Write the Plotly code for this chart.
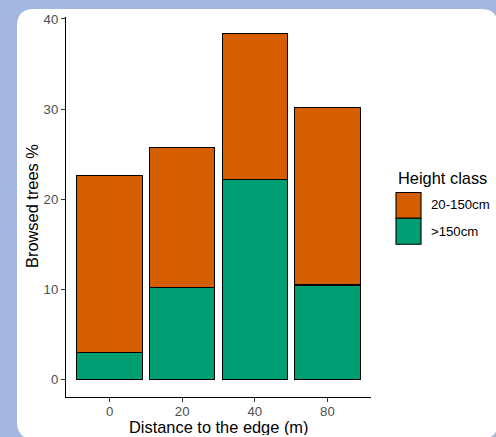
import plotly.graph_objects as go

# Data
categories = ["0", "20", "40", "80"]
tall = [3.0, 10.2, 22.2, 10.5]          # >150cm
small = [19.6, 15.5, 16.2, 19.7]        # 20-150cm
series_names = ["20-150cm", ">150cm"]
colors = {"20-150cm": "#D55E00", ">150cm": "#009E73"}

W, H = 496, 437
L, R, T, B = 66, 125, 17, 40
PW, PH = W - L - R, H - T - B

TITLE_SIZE = 16.4
TEXT_SIZE = 13.2


def xp(px):
    return (px - L) / PW


def yp(py):
    return (H - B - py) / PH


fig = go.Figure()
fig.add_trace(go.Bar(x=categories, y=tall, name=">150cm",
                     marker=dict(color=colors[">150cm"], line=dict(color="black", width=1.1)),
                     showlegend=False))
fig.add_trace(go.Bar(x=categories, y=small, name="20-150cm",
                     marker=dict(color=colors["20-150cm"], line=dict(color="black", width=1.1)),
                     showlegend=False))

# rounded white panel
x0, x1, y0, y1, r = 17, 498, 9, 439, 17
rx, ry = r / PW, r / PH
path = (f"M {xp(x0)+rx},{yp(y0)} L {xp(x1)-rx},{yp(y0)} Q {xp(x1)},{yp(y0)} {xp(x1)},{yp(y0)-ry} "
        f"L {xp(x1)},{yp(y1)+ry} Q {xp(x1)},{yp(y1)} {xp(x1)-rx},{yp(y1)} "
        f"L {xp(x0)+rx},{yp(y1)} Q {xp(x0)},{yp(y1)} {xp(x0)},{yp(y1)+ry} "
        f"L {xp(x0)},{yp(y0)-ry} Q {xp(x0)},{yp(y0)} {xp(x0)+rx},{yp(y0)} Z")
shapes = [dict(type="path", path=path, xref="paper", yref="paper",
               fillcolor="white", line=dict(width=0), layer="below")]

# legend (manual)
key_x0, key_x1 = 396, 421
key_rows = [(192.5, 218.3), (218.3, 244.3)]
label_y = [204.5, 231.5]
annotations = []
for name, (ky0, ky1), ly in zip(series_names, key_rows, label_y):
    shapes.append(dict(type="rect", xref="paper", yref="paper",
                       x0=xp(key_x0), x1=xp(key_x1), y0=yp(ky1), y1=yp(ky0),
                       fillcolor=colors[name], line=dict(color="black", width=1.1)))
    annotations.append(dict(text=name, xref="paper", yref="paper", x=xp(429), y=yp(ly),
                            xanchor="left", yanchor="middle", showarrow=False,
                            font=dict(size=TEXT_SIZE, color="black")))
annotations.append(dict(text="Height class", xref="paper", yref="paper", x=xp(396), y=yp(177.5),
                        xanchor="left", yanchor="middle", showarrow=False,
                        font=dict(size=TITLE_SIZE, color="black")))
annotations.append(dict(text="Distance to the edge (m)", xref="paper", yref="paper",
                        x=0.5, y=yp(427), xanchor="center", yanchor="middle", showarrow=False,
                        height=16, font=dict(size=TITLE_SIZE, color="black")))
annotations.append(dict(text="Browsed trees %", xref="paper", yref="paper",
                        x=xp(32), y=yp(206), xanchor="center", yanchor="middle", showarrow=False,
                        textangle=-90, font=dict(size=TITLE_SIZE, color="black")))

fig.update_layout(
    width=W, height=H,
    margin=dict(l=L, r=R, t=T, b=B, pad=0),
    paper_bgcolor="#A2B8E0", plot_bgcolor="white",
    barmode="stack", bargap=0.1,
    font=dict(family="Liberation Sans, Arial, sans-serif"),
    shapes=shapes, annotations=annotations, showlegend=False,
)
fig.update_xaxes(type="category", range=[-0.6, 3.6], showline=True, linecolor="black",
                 linewidth=1.2, ticks="outside", ticklen=4, tickwidth=1, tickcolor="#333333",
                 ticklabelstandoff=-2,
                 tickfont=dict(size=TEXT_SIZE, color="#4D4D4D"), showgrid=False, zeroline=False,
                 fixedrange=True)
fig.update_yaxes(range=[-1.92, 40.22], tickvals=[0, 10, 20, 30, 40], showline=True,
                 linecolor="black", linewidth=1.2, ticks="outside", ticklen=4, tickwidth=1,
                 tickcolor="#333333", tickfont=dict(size=TEXT_SIZE, color="#4D4D4D"),
                 showgrid=False, zeroline=False, fixedrange=True)

fig.write_html("out.html", config={"displayModeBar": False})
